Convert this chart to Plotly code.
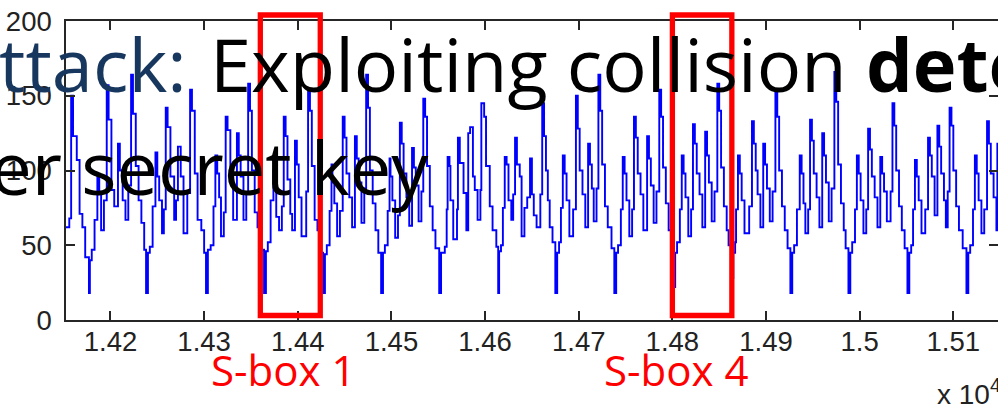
import plotly.graph_objects as go

# ---- power trace (sample index, value); drawn as a step line ----
trace_x = [
    14152, 14156, 14158, 14160, 14164, 14167, 14170, 14173,
    14177, 14178, 14180, 14183, 14186, 14188, 14190, 14193, 14196, 14198, 14201, 14204, 14208, 14210, 14213, 14216, 14219, 14222, 14224, 14227, 14230, 14233, 14236,
    14238, 14240, 14242, 14245, 14248, 14250, 14252, 14255, 14257, 14259, 14261, 14264, 14268, 14270, 14272, 14275, 14278, 14282, 14285, 14287, 14290, 14293, 14297, 14300,
    14302, 14304, 14307, 14310, 14312, 14314, 14316, 14318, 14321, 14323, 14325, 14328, 14331, 14335, 14337, 14339, 14342, 14345, 14347, 14349, 14351, 14354, 14357, 14360,
    14364, 14366, 14368, 14371, 14374, 14375, 14377, 14380, 14383, 14385, 14387, 14389, 14392, 14394, 14397, 14399, 14401, 14404, 14409, 14411, 14413, 14415, 14418, 14421, 14424,
    14427, 14429, 14431, 14434, 14436, 14437, 14439, 14442, 14445, 14448, 14450, 14452, 14455, 14458, 14461, 14463, 14465, 14468, 14471, 14473, 14475, 14477, 14480, 14483, 14486,
    14489, 14491, 14493, 14496, 14498, 14499, 14501, 14504, 14507, 14509, 14511, 14513, 14516, 14519, 14522, 14524, 14526, 14529, 14532, 14534, 14536, 14538, 14541, 14544, 14547,
    14551, 14553, 14557, 14559, 14560, 14562, 14563, 14566, 14570, 14571, 14573, 14577, 14580, 14582, 14584, 14587, 14589, 14592, 14595, 14596, 14599, 14601, 14605, 14608, 14612,
    14614, 14615, 14617, 14619, 14621, 14623, 14625, 14628, 14630, 14632, 14634, 14637, 14639, 14642, 14645, 14648, 14650, 14652, 14655, 14659, 14661, 14663, 14665, 14667, 14669, 14672,
    14675, 14677, 14679, 14681, 14683, 14685, 14687, 14690, 14694, 14697, 14699, 14701, 14704, 14707, 14710, 14712, 14714, 14716, 14719, 14721, 14723, 14725, 14728, 14731, 14735,
    14738, 14740, 14742, 14745, 14747, 14749, 14751, 14754, 14757, 14759, 14761, 14763, 14766, 14769, 14773, 14775, 14777, 14780, 14783, 14786, 14788, 14790, 14793, 14796, 14799,
    14801, 14803, 14805, 14808, 14810, 14812, 14814, 14817, 14820, 14822, 14824, 14826, 14829, 14832, 14835, 14837, 14839, 14842, 14845, 14848, 14850, 14852, 14855, 14858, 14860,
    14863, 14865, 14867, 14868, 14870, 14872, 14874, 14877, 14882, 14885, 14887, 14889, 14891, 14894, 14897, 14899, 14901, 14904, 14907, 14910, 14912, 14914, 14917, 14920, 14923,
    14926, 14928, 14930, 14933, 14936, 14938, 14940, 14942, 14945, 14947, 14949, 14951, 14954, 14957, 14960, 14962, 14964, 14967, 14970, 14973, 14975, 14977, 14980, 14983, 14985,
    14988, 14990, 14992, 14995, 14997, 14999, 15001, 15004, 15007, 15009, 15011, 15013, 15016, 15019, 15022, 15024, 15026, 15029, 15033, 15035, 15037, 15039, 15042, 15045, 15048,
    15051, 15053, 15055, 15057, 15059, 15061, 15063, 15066, 15070, 15073, 15075, 15077, 15080, 15083, 15085, 15087, 15090, 15092, 15094, 15096, 15098, 15100, 15103, 15106, 15110,
    15114, 15116, 15118, 15121, 15123, 15125, 15127, 15130, 15133, 15136, 15138, 15140, 15143, 15146, 15147, 15149,
]
trace_y = [
    62, 68, 150, 123, 107, 71, 62, 42,
    18, 40, 47, 67, 96, 84, 60, 80, 157, 134, 87, 76, 118, 100, 80, 67, 90, 164, 138, 103, 80, 65, 47,
    18, 45, 49, 76, 112, 96, 80, 58, 74, 142, 129, 96, 67, 80, 116, 96, 58, 85, 154, 140, 98, 67, 60, 45,
    18, 47, 50, 76, 110, 98, 82, 56, 72, 136, 127, 96, 67, 125, 110, 96, 67, 85, 158, 140, 100, 72, 62, 47,
    18, 46, 52, 80, 100, 90, 69, 60, 76, 136, 123, 94, 71, 60, 120, 104, 82, 56, 86, 154, 140, 103, 67, 60, 45,
    18, 44, 50, 73, 104, 92, 78, 56, 73, 136, 122, 98, 82, 62, 123, 108, 92, 65, 88, 164, 142, 100, 78, 60, 45,
    18, 45, 50, 73, 108, 96, 80, 55, 70, 132, 118, 98, 82, 63, 115, 102, 90, 66, 86, 148, 136, 103, 76, 60, 48,
    18, 45, 49, 74, 109, 103, 80, 54, 74, 122, 105, 85, 60, 125, 129, 96, 87, 67, 87, 145, 136, 103, 76, 60, 49,
    18, 46, 50, 75, 109, 104, 80, 67, 84, 122, 104, 96, 56, 75, 82, 108, 84, 70, 62, 84, 145, 123, 100, 80, 62, 52,
    18, 45, 52, 75, 110, 98, 80, 56, 74, 150, 128, 100, 84, 62, 118, 104, 88, 66, 88, 164, 140, 104, 76, 62, 48,
    18, 45, 50, 74, 109, 98, 80, 56, 74, 136, 122, 98, 84, 60, 123, 108, 90, 65, 86, 154, 136, 102, 78, 60, 45,
    22, 45, 52, 74, 110, 98, 82, 56, 74, 131, 118, 98, 84, 62, 126, 110, 92, 66, 86, 158, 140, 102, 76, 60, 50,
    28, 45, 52, 74, 110, 98, 80, 58, 76, 133, 118, 100, 84, 62, 118, 104, 88, 66, 86, 152, 136, 100, 76, 60, 48,
    18, 45, 50, 74, 110, 98, 78, 58, 74, 134, 120, 98, 82, 62, 125, 110, 92, 66, 88, 166, 146, 104, 78, 60, 48,
    18, 45, 52, 74, 110, 98, 80, 58, 74, 128, 114, 96, 82, 62, 109, 98, 86, 66, 86, 145, 130, 100, 76, 60, 48,
    18, 45, 50, 74, 107, 96, 80, 58, 74, 122, 110, 96, 70, 130, 116, 98, 80, 62, 86, 142, 130, 100, 76, 60, 48,
    18, 45, 50, 74, 110, 98, 80, 58, 74, 133, 118, 98, 82, 60, 118, 105,
]

x_range = [14152.5, 15147.7]
y_range = [0, 200]
x_tick_vals = [14200, 14300, 14400, 14500, 14600, 14700, 14800, 14900, 15000, 15100]
x_tick_text = ["1.42", "1.43", "1.44", "1.45", "1.46", "1.47", "1.48", "1.49", "1.5", "1.51"]
y_tick_vals = [0, 50, 100, 150, 200]
y_tick_text = ["0", "50", "100", "150", "200"]

sbox_names = ["S-box 1", "S-box 4"]
sbox_start = [14360, 14800]
sbox_end = [14424, 14863.5]
sbox_label_x = [14384, 14804]

title_prefix = "attack:"
title_main = "Exploiting collision <b>detection</b>"
subtitle = "Recover secret key"
exponent_label = "x 10<sup>4</sup>"

W, H = 998, 408
ML, MR, MT, MB = 66, 0, 21, 88
PW, PH = W - ML - MR, H - MT - MB


def px_x(p):
    return (p - ML) / PW


def px_y(p):
    return (H - MB - p) / PH


fig = go.Figure()
fig.add_trace(go.Scatter(
    x=trace_x, y=trace_y, mode="lines",
    line=dict(color="#0000FF", width=1.9, shape="hv"),
    hoverinfo="skip", showlegend=False,
))

tick_font = dict(family="Liberation Sans, Arial, sans-serif", size=27.5, color="#222222")
axis_common = dict(
    showline=True, linecolor="#262626", linewidth=1.5, mirror="ticks",
    ticks="inside", ticklen=9, tickwidth=1.5, tickcolor="#262626",
    showgrid=False, zeroline=False, tickfont=tick_font, automargin=False,
)

fig.update_layout(
    width=W, height=H,
    margin=dict(l=ML, r=MR, t=MT, b=MB, pad=0, autoexpand=False),
    paper_bgcolor="white", plot_bgcolor="white",
    xaxis=dict(range=x_range, tickmode="array", tickvals=x_tick_vals, ticktext=x_tick_text,
               ticklabelstandoff=-4, **axis_common),
    yaxis=dict(range=y_range, tickmode="array", tickvals=y_tick_vals, ticktext=y_tick_text,
               ticklabelstandoff=7, **axis_common),
    hovermode=False,
)

for x0, x1 in zip(sbox_start, sbox_end):
    fig.add_shape(type="rect", xref="x", yref="paper", x0=x0, x1=x1,
                  y0=px_y(315.5), y1=px_y(15), line=dict(color="#FF0000", width=5.3),
                  fillcolor="rgba(0,0,0,0)", layer="above")

for name, lx in zip(sbox_names, sbox_label_x):
    fig.add_annotation(x=lx, xref="x", y=px_y(370), yref="paper", text=name, showarrow=False,
                       xanchor="center", yanchor="middle",
                       font=dict(family="Open Sans", size=42, color="#FF0000"))

fig.add_annotation(x=px_x(935), xref="paper", y=px_y(392), yref="paper", text=exponent_label,
                   showarrow=False, xanchor="left", yanchor="middle",
                   font=dict(family="Liberation Sans, Arial, sans-serif", size=28, color="#222222"))

big = dict(family="Open Sans", size=74)
fig.add_annotation(x=px_x(189), xref="paper", y=px_y(92.5 - 0.388 * 74), yref="paper",
                   text=title_prefix, showarrow=False, xanchor="right", yanchor="middle",
                   font=dict(color="#17375E", **big))
fig.add_annotation(x=px_x(208), xref="paper", y=px_y(92.5 - 0.388 * 74), yref="paper",
                   text=title_main, showarrow=False, xanchor="left", yanchor="middle",
                   font=dict(color="#000000", **big))
fig.add_annotation(x=px_x(431), xref="paper", y=px_y(195 - 0.388 * 74), yref="paper",
                   text=subtitle, showarrow=False, xanchor="right", yanchor="middle",
                   font=dict(color="#000000", **big))

fig.write_html(
    "out.html",
    config={"displayModeBar": False},
    post_script="document.body.style.margin='0';document.body.style.overflow='hidden';",
)
